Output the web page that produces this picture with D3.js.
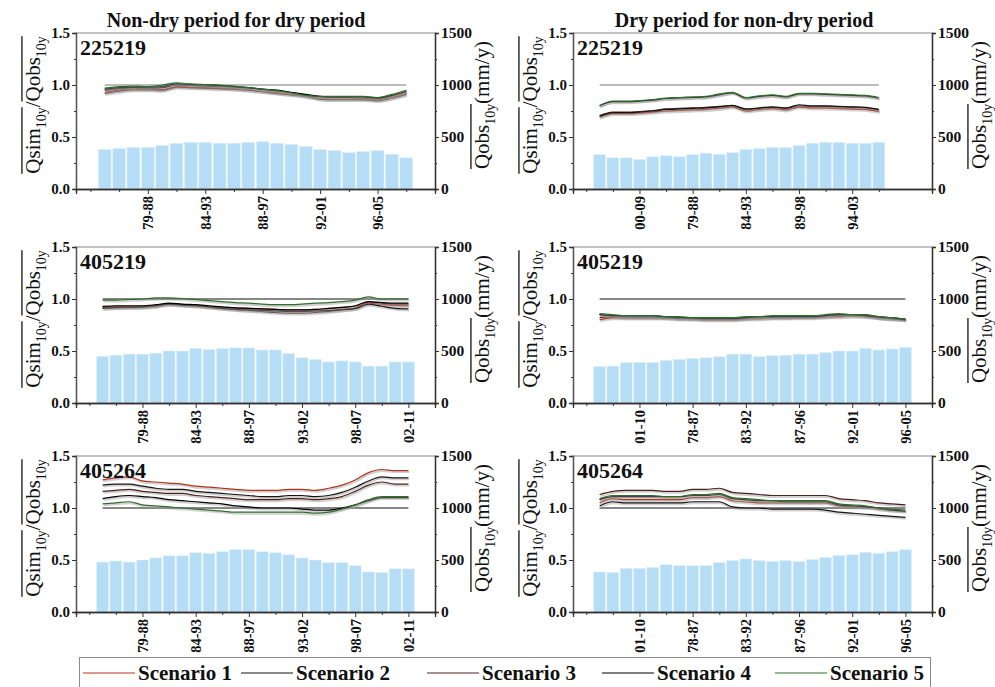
<!DOCTYPE html>
<html>
<head>
<meta charset="utf-8">
<title>Qsim/Qobs over 10-year windows</title>
<script src="https://cdn.jsdelivr.net/npm/d3@7"></script>
<style>
  body { margin: 0; background: #fff; }
  svg text { font-family: "Liberation Serif", "Times New Roman", serif; }
</style>
</head>
<body>
<svg id="chart" width="995" height="687"></svg>
<script>
// ---- data ----
var scenarioNames = ["Scenario 1", "Scenario 2", "Scenario 3", "Scenario 4", "Scenario 5"];
var scenarioColors = ["#b5341d", "#151515", "#4e2020", "#000000", "#2f6e2a"];
var columnTitles = ["Non-dry period for dry period", "Dry period for non-dry period"];
var stations = ["225219", "405219", "405264"];

var leftTicks = [0, 0.5, 1.0, 1.5];
var rightTicks = [0, 500, 1000, 1500];

// top-left : 225219, non-dry for dry
var tlLabels = ["79-88", "84-93", "88-97", "92-01", "96-05"];
var tlBars = [380,390,400,400,420,440,450,450,440,440,450,455,440,430,410,380,370,350,360,370,335,300];
var tlS1 = [0.93,0.95,0.96,0.96,0.955,0.985,0.98,0.975,0.97,0.965,0.955,0.94,0.925,0.91,0.895,0.87,0.865,0.865,0.865,0.86,0.88,0.92];
var tlS2 = [0.95,0.965,0.975,0.97,0.975,1.0,0.995,0.99,0.985,0.98,0.97,0.955,0.94,0.925,0.905,0.885,0.88,0.88,0.875,0.87,0.895,0.935];
var tlS3 = [0.92,0.94,0.955,0.955,0.95,0.98,0.975,0.97,0.965,0.96,0.95,0.935,0.92,0.905,0.89,0.865,0.86,0.86,0.86,0.85,0.875,0.91];
var tlS4 = [0.96,0.975,0.98,0.98,0.985,1.01,1.005,1.0,0.995,0.985,0.975,0.96,0.95,0.93,0.91,0.89,0.885,0.885,0.885,0.875,0.9,0.94];
var tlS5 = [0.97,0.985,0.99,0.985,1.0,1.02,1.01,1.005,1.0,0.99,0.975,0.96,0.945,0.925,0.9,0.89,0.89,0.89,0.89,0.88,0.91,0.95];

// top-right : 225219, dry for non-dry
var trLabels = ["00-09", "79-88", "84-93", "89-98", "94-03"];
var trBars = [330,300,300,285,310,320,310,330,345,335,350,380,390,400,400,420,440,450,450,440,440,450];
var trS1 = [0.69,0.725,0.725,0.73,0.74,0.75,0.755,0.76,0.765,0.775,0.79,0.75,0.765,0.775,0.76,0.79,0.78,0.78,0.775,0.77,0.765,0.745];
var trS2 = [0.70,0.735,0.735,0.74,0.75,0.765,0.77,0.775,0.78,0.79,0.805,0.77,0.78,0.79,0.78,0.81,0.80,0.80,0.795,0.79,0.785,0.765];
var trS3 = [0.705,0.74,0.74,0.745,0.755,0.77,0.775,0.78,0.785,0.795,0.80,0.765,0.775,0.785,0.775,0.80,0.795,0.795,0.79,0.785,0.78,0.76];
var trS4 = [0.80,0.84,0.84,0.845,0.855,0.87,0.875,0.88,0.885,0.905,0.925,0.875,0.89,0.90,0.885,0.915,0.915,0.91,0.905,0.90,0.895,0.875];
var trS5 = [0.80,0.845,0.845,0.85,0.86,0.875,0.88,0.885,0.89,0.915,0.93,0.88,0.895,0.905,0.89,0.92,0.92,0.915,0.91,0.905,0.90,0.88];

// middle-left : 405219, non-dry for dry
var mlLabels = ["79-88", "84-93", "88-97", "93-02", "98-07", "02-11"];
var mlBars = [450,460,470,470,480,500,500,525,515,525,530,530,510,510,475,435,420,395,405,395,355,355,395,395];
var mlS1 = [0.925,0.93,0.93,0.93,0.94,0.955,0.945,0.94,0.93,0.92,0.915,0.91,0.905,0.9,0.895,0.895,0.9,0.91,0.92,0.93,0.96,0.95,0.94,0.935];
var mlS2 = [0.915,0.92,0.92,0.925,0.935,0.95,0.94,0.935,0.925,0.91,0.9,0.895,0.89,0.885,0.88,0.88,0.885,0.89,0.9,0.91,0.95,0.93,0.91,0.905];
var mlS3 = [0.91,0.915,0.92,0.92,0.93,0.955,0.945,0.935,0.92,0.91,0.9,0.89,0.88,0.87,0.865,0.865,0.87,0.88,0.895,0.91,0.97,0.96,0.95,0.95];
var mlS4 = [0.93,0.935,0.935,0.935,0.945,0.96,0.95,0.945,0.935,0.925,0.915,0.91,0.905,0.9,0.895,0.895,0.9,0.91,0.92,0.935,0.975,0.965,0.96,0.96];
var mlS5 = [0.99,0.99,0.995,1.0,1.01,1.01,1.005,0.995,0.985,0.975,0.965,0.96,0.95,0.945,0.945,0.95,0.96,0.965,0.975,0.99,1.02,1.0,1.0,1.0];

// middle-right : 405219, dry for non-dry
var mrLabels = ["01-10", "78-87", "83-92", "87-96", "92-01", "96-05"];
var mrBars = [350,355,390,390,390,410,420,430,435,445,470,470,445,455,460,470,470,485,500,500,525,510,520,535];
var mrS1 = [0.80,0.82,0.82,0.82,0.82,0.82,0.81,0.81,0.80,0.80,0.80,0.81,0.81,0.82,0.82,0.82,0.82,0.83,0.83,0.84,0.83,0.82,0.81,0.80];
var mrS2 = [0.85,0.84,0.83,0.83,0.83,0.82,0.82,0.81,0.81,0.81,0.81,0.82,0.83,0.83,0.83,0.83,0.83,0.84,0.85,0.85,0.84,0.82,0.81,0.80];
var mrS3 = [0.82,0.83,0.82,0.82,0.82,0.82,0.81,0.81,0.81,0.81,0.81,0.81,0.82,0.82,0.82,0.83,0.83,0.83,0.84,0.84,0.84,0.82,0.81,0.81];
var mrS4 = [0.85,0.84,0.84,0.84,0.84,0.83,0.82,0.82,0.81,0.81,0.81,0.82,0.83,0.83,0.83,0.83,0.83,0.84,0.85,0.85,0.84,0.83,0.82,0.80];
var mrS5 = [0.86,0.85,0.84,0.84,0.84,0.83,0.83,0.82,0.82,0.82,0.82,0.83,0.83,0.84,0.84,0.84,0.84,0.85,0.86,0.85,0.85,0.83,0.82,0.81];

// bottom-left : 405264, non-dry for dry
var blLabels = ["79-88", "84-93", "88-97", "93-02", "98-07", "02-11"];
var blBars = [480,490,480,500,520,540,540,570,565,580,600,600,580,570,550,520,500,475,475,445,385,380,415,415];
var blS1 = [1.27,1.29,1.30,1.26,1.25,1.24,1.23,1.21,1.20,1.19,1.18,1.17,1.17,1.17,1.18,1.18,1.17,1.19,1.22,1.27,1.34,1.37,1.36,1.36];
var blS2 = [1.22,1.23,1.23,1.21,1.19,1.18,1.18,1.16,1.15,1.14,1.13,1.12,1.11,1.11,1.12,1.12,1.11,1.12,1.15,1.20,1.26,1.30,1.29,1.29];
var blS3 = [1.16,1.17,1.18,1.16,1.15,1.14,1.14,1.12,1.11,1.10,1.09,1.08,1.08,1.08,1.09,1.09,1.08,1.09,1.11,1.16,1.22,1.25,1.23,1.23];
var blS4 = [1.09,1.11,1.12,1.11,1.10,1.08,1.07,1.06,1.05,1.04,1.02,1.01,1.0,1.0,1.0,0.99,0.98,0.98,1.0,1.03,1.07,1.10,1.10,1.10];
var blS5 = [1.04,1.05,1.06,1.03,1.02,1.01,1.0,0.99,0.98,0.97,0.96,0.96,0.96,0.96,0.96,0.96,0.95,0.96,0.99,1.03,1.08,1.11,1.11,1.11];

// bottom-right : 405264, dry for non-dry
var brLabels = ["01-10", "78-87", "83-92", "87-96", "92-01", "96-05"];
var brBars = [385,380,420,420,430,455,445,445,445,475,495,510,495,485,495,485,505,525,545,550,575,565,580,600];
var brS1 = [1.05,1.09,1.08,1.08,1.08,1.08,1.08,1.10,1.10,1.11,1.07,1.06,1.05,1.05,1.05,1.05,1.05,1.05,1.02,1.01,1.01,0.99,0.98,0.97];
var brS2 = [1.02,1.06,1.05,1.05,1.05,1.05,1.05,1.06,1.06,1.06,1.01,1.00,1.00,0.99,0.99,0.99,0.99,0.98,0.96,0.95,0.94,0.93,0.92,0.91];
var brS3 = [1.13,1.16,1.17,1.17,1.17,1.16,1.16,1.18,1.18,1.19,1.15,1.14,1.13,1.12,1.12,1.12,1.12,1.12,1.09,1.08,1.07,1.05,1.04,1.03];
var brS4 = [1.08,1.11,1.11,1.11,1.11,1.11,1.11,1.12,1.12,1.13,1.09,1.08,1.07,1.07,1.06,1.06,1.06,1.06,1.03,1.02,1.01,1.00,0.98,0.97];
var brS5 = [1.09,1.12,1.12,1.12,1.12,1.11,1.11,1.13,1.13,1.14,1.10,1.09,1.08,1.07,1.07,1.07,1.07,1.07,1.04,1.03,1.02,1.00,0.99,0.98];

var panels = [
  { row: 0, col: 0, slots: 24, labels: tlLabels, bars: tlBars, lines: [tlS1, tlS2, tlS3, tlS4, tlS5] },
  { row: 0, col: 1, slots: 26, labels: trLabels, bars: trBars, lines: [trS1, trS2, trS3, trS4, trS5] },
  { row: 1, col: 0, slots: 26, labels: mlLabels, bars: mlBars, lines: [mlS1, mlS2, mlS3, mlS4, mlS5] },
  { row: 1, col: 1, slots: 26, labels: mrLabels, bars: mrBars, lines: [mrS1, mrS2, mrS3, mrS4, mrS5] },
  { row: 2, col: 0, slots: 26, labels: blLabels, bars: blBars, lines: [blS1, blS2, blS3, blS4, blS5] },
  { row: 2, col: 1, slots: 26, labels: brLabels, bars: brBars, lines: [brS1, brS2, brS3, brS4, brS5] }
];

// ---- layout ----
var colLeft = [76, 573];
var plotW = 359;
var rowTop = [33, 247, 456];
var plotH = 156;
var refColor = ["#7a7a7a", "#111", "#111"];
var svg = d3.select("#chart");

// text with subscripts and overlines, laid out horizontally then rotated
function richText(parent, parts, fs, cx, cy) {
  var g = parent.append("g");
  var x = 0, groups = {};
  parts.forEach(function(p) {
    var t = g.append("text")
      .attr("x", x)
      .attr("y", p.sub ? fs * 0.3 : 0)
      .attr("font-size", p.sub ? fs * 0.66 : fs)
      .attr("fill", "#111")
      .text(p.t);
    var w = t.node().getComputedTextLength();
    if (p.ov) {
      if (!groups[p.ov]) groups[p.ov] = [x, x + w];
      groups[p.ov][1] = x + w;
    }
    x += w;
  });
  Object.keys(groups).forEach(function(k) {
    g.append("line")
      .attr("x1", groups[k][0]).attr("x2", groups[k][1])
      .attr("y1", -fs * 0.86).attr("y2", -fs * 0.86)
      .attr("stroke", "#111").attr("stroke-width", 1.3);
  });
  g.attr("transform", "translate(" + cx + "," + cy + ") rotate(-90) translate(" + (-x / 2) + ",0)");
}

panels.forEach(function(p) {
  var left = colLeft[p.col], top = rowTop[p.row];
  var g = svg.append("g").attr("transform", "translate(" + left + "," + top + ")");
  var n = p.bars.length;

  var x = d3.scaleLinear().domain([-1, p.slots]).range([0, plotW]);
  var yL = d3.scaleLinear().domain([0, 1.5]).range([plotH, 0]);
  var yR = d3.scaleLinear().domain([0, 1500]).range([plotH, 0]);
  var bw = x(0.45) - x(-0.45);

  // bars (right axis, mm/y)
  g.selectAll(".bar").data(p.bars).enter().append("rect")
    .attr("x", function(d, i) { return x(i + 1) - bw / 2; })
    .attr("y", function(d) { return yR(d); })
    .attr("width", bw)
    .attr("height", function(d) { return plotH - yR(d); })
    .attr("fill", "#b6ddf6")
    .attr("stroke", "#e2f1fb")
    .attr("stroke-width", 0.6);

  // reference line at 1.0
  g.append("line")
    .attr("x1", x(1)).attr("x2", x(n))
    .attr("y1", yL(1)).attr("y2", yL(1))
    .attr("stroke", refColor[p.row]).attr("stroke-width", 1.2);

  var line = d3.line()
    .x(function(d, i) { return x(i + 1); })
    .y(function(d) { return yL(d); })
    .curve(d3.curveMonotoneX);

  var order = [2, 0, 1, 3, 4];
  order.forEach(function(k) {
    g.append("path")
      .attr("d", line(p.lines[k]))
      .attr("fill", "none")
      .attr("stroke", "#9a9a9a")
      .attr("stroke-opacity", 0.45)
      .attr("stroke-width", 2.2)
      .attr("transform", "translate(0.8,1.4)");
    g.append("path")
      .attr("d", line(p.lines[k]))
      .attr("fill", "none")
      .attr("stroke", scenarioColors[k])
      .attr("stroke-width", 1.2);
  });

  // frame top
  g.append("line").attr("x1", 0).attr("x2", plotW).attr("y1", 0).attr("y2", 0)
    .attr("stroke", "#888").attr("stroke-width", 1.2);

  // left axis
  var minorL = g.append("g").call(d3.axisLeft(yL).tickValues([0.25, 0.75, 1.25]).tickSize(2).tickFormat(""));
  var axL = g.append("g").call(d3.axisLeft(yL).tickValues(leftTicks).tickSize(4).tickPadding(2)
    .tickFormat(d3.format(".1f")));
  // right axis
  var minorR = g.append("g").attr("transform", "translate(" + plotW + ",0)")
    .call(d3.axisRight(yR).tickValues([250, 750, 1250]).tickSize(2).tickFormat(""));
  var axR = g.append("g").attr("transform", "translate(" + plotW + ",0)")
    .call(d3.axisRight(yR).tickValues(rightTicks).tickSize(4).tickPadding(2).tickFormat(d3.format("d")));
  // bottom axis
  var minorPos = [];
  for (var t = 0; t <= p.slots - 2; t += 2) if (t % 4 !== 0 || t === 0) minorPos.push(t);
  var minorB = g.append("g").attr("transform", "translate(0," + plotH + ")")
    .call(d3.axisBottom(x).tickValues(minorPos).tickSize(3).tickFormat(""));
  var majorPos = p.labels.map(function(d, i) { return (i + 1) * 4; });
  var axB = g.append("g").attr("transform", "translate(0," + plotH + ")")
    .call(d3.axisBottom(x).tickValues(majorPos).tickSize(5)
      .tickFormat(function(d, i) { return p.labels[i]; }));
  axB.selectAll("text")
    .attr("y", 0).attr("x", -7).attr("dy", "0.35em")
    .attr("transform", "rotate(-90)")
    .style("text-anchor", "end");

  [minorL, axL, minorR, axR, minorB, axB].forEach(function(a) {
    a.select(".domain").attr("stroke", "#333").attr("stroke-width", 1.3);
    a.selectAll(".tick line").attr("stroke", "#333");
    a.selectAll("text").attr("font-size", 15).attr("font-weight", "bold")
      .attr("font-family", "Liberation Serif, Times New Roman, serif").attr("fill", "#111");
  });
  minorL.select(".domain").attr("stroke", "#555");
  axL.select(".domain").attr("stroke", "#555");
  axB.selectAll("text").attr("font-size", 14.5);
  axR.selectAll("text").attr("font-size", 15.5);

  // station label
  g.append("text").attr("x", 4).attr("y", 22)
    .attr("font-size", 22).attr("font-weight", "bold").attr("fill", "#111")
    .text(stations[p.row]);

  // axis titles
  richText(svg, [
    { t: "Qsim", ov: 1 }, { t: "10y", sub: true, ov: 1 }, { t: "/" },
    { t: "Qobs", ov: 2 }, { t: "10y", sub: true, ov: 2 }
  ], 21, left - 36, top + plotH / 2 - 6);
  richText(svg, [
    { t: "Qobs", ov: 1 }, { t: "10y", sub: true, ov: 1 }, { t: "(mm/y)" }
  ], 21, left + plotW + 54, top + plotH / 2 - 6);
});

// column titles
var titleX = [236, 744];
columnTitles.forEach(function(t, i) {
  svg.append("text").attr("x", titleX[i]).attr("y", 27)
    .attr("text-anchor", "middle").attr("font-size", 20).attr("font-weight", "bold")
    .attr("fill", "#111").text(t);
});

// legend
var legend = svg.append("g");
legend.append("rect").attr("x", 79.5).attr("y", 657.5).attr("width", 851).attr("height", 40)
  .attr("fill", "#fff").attr("stroke", "#888").attr("stroke-width", 1);
var legendX = [83, 241, 427, 602, 775];
scenarioNames.forEach(function(name, i) {
  legend.append("line")
    .attr("x1", legendX[i]).attr("x2", legendX[i] + 52)
    .attr("y1", 673).attr("y2", 673)
    .attr("stroke", scenarioColors[i]).attr("stroke-width", 1.2);
  legend.append("text").attr("x", legendX[i] + 55).attr("y", 680)
    .attr("font-size", 21).attr("font-weight", "bold").attr("fill", "#111")
    .text(name);
});
</script>
</body>
</html>
